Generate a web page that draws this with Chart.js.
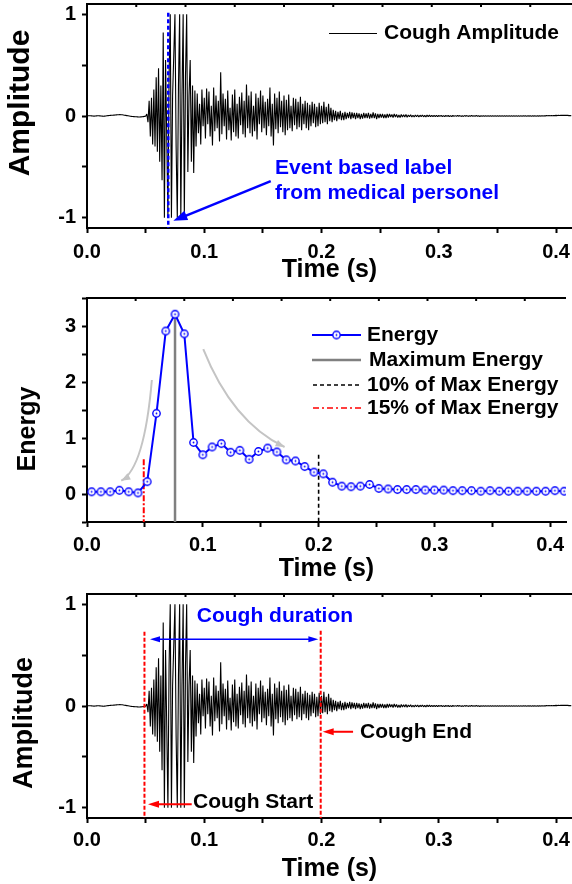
<!DOCTYPE html>
<html><head><meta charset="utf-8">
<script src="https://cdn.jsdelivr.net/npm/chart.js@4.4.1/dist/chart.umd.min.js"></script>
<style>
body{margin:0;background:#fff;}
canvas{display:block;}
</style></head><body>
<canvas id="c1" width="572" height="290"></canvas>
<canvas id="c2" width="572" height="300"></canvas>
<canvas id="c3" width="572" height="294"></canvas>
<script>
// ---- values ----
var timeMin=0,timeMax=0.4136;
var timeTicks=[0,0.05,0.1,0.15,0.2,0.25,0.3,0.35,0.4];
var ampTicks=[-1,-0.5,0,0.5,1];
var energyTicks=[-0.5,0,0.5,1,1.5,2,2.5,3,3.5];
var topTickStep=0.042;

// cough waveform, one sample per ms
var ampStep=0.001;
var cough=[
0,0.002,0.003,0.002,0.001,0,-0.001,0,0.001,0.002,
0.002,0.001,0,-0.001,-0.002,-0.001,0,0.002,0.004,0.005,
0.006,0.007,0.008,0.009,0.01,0.011,0.012,0.013,0.014,0.013,
0.012,0.01,0.008,0.006,0.004,0.002,0,-0.002,-0.004,-0.005,
-0.006,-0.007,-0.008,-0.009,-0.01,-0.01,-0.009,-0.008,-0.006,-0.004,
-0.003,0.02,-0.06,0.15,-0.2,0.18,-0.28,0.26,-0.3,0.38,
-0.35,0.47,-0.45,0.3,-0.63,0.82,-1,0.55,-0.2,-1,
0.4,1,-1,0.2,0.6,1,-0.3,-1,0.3,1,
-1,0.2,1,-1,0.4,1,-0.55,0.2,0.55,-0.45,
0.3,-0.56,0.25,-0.3,0.22,-0.17,0.12,-0.28,0.26,-0.1,
0.18,-0.22,0.27,-0.08,0.24,-0.2,0.1,-0.29,0.28,-0.15,
0.2,-0.12,0.15,-0.25,0.43,-0.18,0.22,-0.1,0.17,-0.23,
0.25,-0.14,0.08,-0.24,0.21,-0.16,0.26,-0.2,0.12,-0.22,
0.19,-0.09,0.23,-0.18,0.15,-0.21,0.31,-0.12,0.2,-0.17,
0.24,-0.2,0.1,-0.15,0.22,-0.23,0.18,-0.08,0.25,-0.16,
0.2,-0.12,0.14,-0.19,0.17,-0.1,0.28,-0.2,0.12,-0.29,
0.22,-0.13,0.18,-0.17,0.24,-0.11,0.15,-0.16,0.2,-0.19,
0.16,-0.14,0.21,-0.12,0.1,-0.15,0.18,-0.09,0.17,-0.13,
0.14,-0.11,0.19,-0.14,0.12,-0.08,0.15,-0.12,0.13,-0.14,
0.11,-0.1,0.14,-0.07,0.12,-0.11,0.09,-0.1,0.13,-0.08,
0.1,-0.07,0.14,-0.06,0.09,-0.08,0.12,-0.05,0.08,-0.06,
0.06,-0.04,0.05,-0.05,0.04,-0.03,0.05,-0.04,0.03,-0.04,
0.04,-0.03,0.03,-0.02,0.04,-0.03,0.035,-0.02,0.03,-0.03,
0.03,-0.02,0.025,-0.03,0.02,-0.025,0.03,-0.02,0.025,-0.02,
0.03,-0.025,0.02,-0.02,0.035,-0.02,0.025,-0.03,0.02,-0.02,
0.02,-0.015,0.02,-0.02,0.015,-0.02,0.02,-0.015,0.02,-0.01,
0.015,-0.015,0.02,-0.01,0.015,-0.015,0.01,-0.015,0.015,-0.01,
0.012,-0.01,0.015,-0.012,0.01,-0.008,0.012,-0.01,0.008,-0.01,
0.01,-0.008,0.01,-0.01,0.008,-0.006,0.01,-0.008,0.006,-0.008,
0.008,-0.006,0.008,-0.007,0.006,-0.006,0.007,-0.005,0.006,-0.006,
0.005,-0.004,0.006,-0.005,0.004,-0.005,0.005,-0.004,0.005,-0.005,
0.004,-0.005,0.005,-0.004,0.004,-0.004,0.005,-0.003,0.004,-0.004,
0.003,-0.004,0.004,-0.003,0.004,-0.004,0.003,-0.003,0.004,-0.003,
0.003,-0.003,0.004,-0.003,0.003,-0.004,0.003,-0.003,0.003,-0.003,
0.003,-0.002,0.003,-0.003,0.002,-0.003,0.003,-0.002,0.003,-0.003,
0.002,-0.003,0.003,-0.002,0.003,-0.002,0.002,-0.003,0.002,-0.002,
0.003,-0.002,0.002,-0.002,0.003,-0.002,0.002,-0.002,0.002,-0.002,
0.002,-0.002,0.003,-0.001,0.002,-0.002,0.002,-0.001,0.002,-0.002,
0.002,-0.001,0.002,-0.002,0.002,-0.001,0.002,-0.001,0.003,-0.001,
0.003,0.001,0.004,0.002,0.004,0.003,0.005,0.003,0.005,0.004,
0.006,0.004,0.007,0.005,0.007,0.006,0.008,0.006,0.007,0.006,
0.006,0.004,0.005,0.003
];

// frame energy, one frame per 8 ms
var energyStart=0.004,energyStep=0.008;
var energy=[
0.04,0.04,0.04,0.066,0.04,0.02,0.22,1.44,2.91,3.21,
2.86,0.92,0.70,0.84,0.90,0.745,0.78,0.62,0.76,0.82,
0.75,0.61,0.59,0.49,0.39,0.36,0.21,0.14,0.13,0.14,
0.17,0.10,0.09,0.08,0.08,0.08,0.07,0.07,0.07,0.06,
0.06,0.06,0.05,0.06,0.05,0.05,0.05,0.05,0.05,0.05,
0.06,0.05
];

// thresholds / labels
var labelTime=0.0693;                  // medical label
var peakTime=0.076,peakEnergy=3.21;    // maximum energy
var end10Time=0.2,end10Top=0.7;        // 10% of max
var start15Time=0.049,start15Top=0.62; // 15% of max
var coughStart=0.049,coughEnd=0.1993;

var FONT='"Liberation Sans", Arial, sans-serif';
var BLUE='#0000ff',RED='#ff0000',GRAY='#808080',LGRAY='#c4c4c4';

function xScale(tickPad,titlePad,h){
  return {type:'linear',min:timeMin,max:timeMax,
    afterFit:function(s){s.height=h;s.paddingLeft=0;s.paddingRight=0;},
    afterBuildTicks:function(s){s.ticks=timeTicks.map(function(v){return {value:v};});},
    ticks:{autoSkip:false,maxRotation:0,padding:tickPad,color:'#000',font:{family:FONT,size:20,weight:'bold'},
      callback:function(v){return Math.abs(v*10-Math.round(v*10))<1e-6?v.toFixed(1):'';}},
    grid:{drawOnChartArea:false,drawTicks:true,tickLength:5,tickWidth:2,tickColor:'#000'},
    border:{display:true,width:2,color:'#000'},
    title:{display:true,text:'Time (s)',color:'#000',font:{family:FONT,size:25,weight:'bold',lineHeight:1},padding:{top:0,bottom:titlePad}}
  };
}
function yScale(min,max,ticks){
  return {type:'linear',min:min,max:max,
    afterFit:function(s){s.width=87;s.paddingTop=0;s.paddingBottom=0;},
    afterBuildTicks:function(s){s.ticks=ticks.map(function(v){return {value:v};});},
    ticks:{autoSkip:false,padding:6,color:'#000',font:{family:FONT,size:20,weight:'bold'},
      callback:function(v){return Number.isInteger(v)?String(v):'';}},
    grid:{drawOnChartArea:false,drawTicks:true,tickLength:5,tickWidth:2,tickColor:'#000'},
    border:{display:true,width:2,color:'#000'},
    title:{display:false}
  };
}
// rotated y title, placed like the original
function yTitle(text,size,cx,cy){
  return {id:'ytitle',afterDraw:function(ch){
    var g=ch.ctx;g.save();g.translate(cx,cy);g.rotate(-Math.PI/2);
    g.font='bold '+size+'px '+FONT;g.fillStyle='#000';g.textAlign='center';g.textBaseline='middle';
    g.fillText(text,0,0);g.restore();
  }};
}

var frameTop={id:'frameTop',afterDraw:function(ch){
  var a=ch.chartArea,g=ch.ctx,x=ch.scales.x;
  g.save();g.strokeStyle='#000';g.lineWidth=2;
  g.beginPath();g.moveTo(a.left-1,a.top);g.lineTo(a.right,a.top);g.stroke();
  g.beginPath();
  for(var i=0;i*topTickStep<=timeMax;i++){var px=x.getPixelForValue(i*topTickStep);g.moveTo(px,a.top);g.lineTo(px,a.top+3);}
  g.stroke();g.restore();
}};

function head(g,x,y,ang,len,w,color){
  g.save();g.translate(x,y);g.rotate(ang);
  g.beginPath();g.moveTo(0,0);g.lineTo(-len,w/2);g.lineTo(-len,-w/2);g.closePath();
  g.fillStyle=color;g.fill();g.restore();
}
function arrow(g,x1,y1,x2,y2,color,lw,len,w,both){
  var ang=Math.atan2(y2-y1,x2-x1),c=Math.cos(ang),s=Math.sin(ang);
  g.save();g.strokeStyle=color;g.lineWidth=lw;g.setLineDash([]);g.beginPath();
  g.moveTo(both?x1+c*len*0.8:x1,both?y1+s*len*0.8:y1);g.lineTo(x2-c*len*0.8,y2-s*len*0.8);g.stroke();g.restore();
  head(g,x2,y2,ang,len,w,color);
  if(both)head(g,x1,y1,ang+Math.PI,len,w,color);
}
function vline(g,px,y1,y2,color,lw,dash){
  g.save();g.strokeStyle=color;g.lineWidth=lw;g.setLineDash(dash);
  g.beginPath();g.moveTo(px,y1);g.lineTo(px,y2);g.stroke();g.restore();
}
function label(g,text,px,py,color){
  g.save();g.font='bold 21px '+FONT;g.fillStyle=color;g.textAlign='left';g.textBaseline='middle';
  g.fillText(text,px,py);g.restore();
}
function curveArrow(ch,p0,p1,p2){
  var x=ch.scales.x,y=ch.scales.y,g=ch.ctx;
  var a=[x.getPixelForValue(p0[0]),y.getPixelForValue(p0[1])];
  var b=[x.getPixelForValue(p1[0]),y.getPixelForValue(p1[1])];
  var c=[x.getPixelForValue(p2[0]),y.getPixelForValue(p2[1])];
  g.save();g.strokeStyle=LGRAY;g.lineWidth=2;g.beginPath();g.moveTo(a[0],a[1]);g.quadraticCurveTo(b[0],b[1],c[0],c[1]);g.stroke();g.restore();
  head(g,c[0],c[1],Math.atan2(c[1]-b[1],c[0]-b[0]),9,7,LGRAY);
}

function ringDot(){
  var c=document.createElement('canvas');c.width=c.height=11;
  var g=c.getContext('2d');
  g.beginPath();g.arc(5.5,5.5,3.7,0,Math.PI*2);g.fillStyle='#fff';g.fill();
  g.lineWidth=1.4;g.strokeStyle=BLUE;g.stroke();
  g.beginPath();g.arc(5.5,5.5,0.9,0,Math.PI*2);g.fillStyle=BLUE;g.fill();
  return c;
}
var ring=ringDot();

var coughPts=cough.map(function(v,i){return {x:i*ampStep,y:v};});
var energyPts=energy.map(function(v,k){return {x:energyStart+k*energyStep,y:v};});

function base(pad){
  return {responsive:false,animation:false,layout:{padding:{top:pad,left:0,right:0,bottom:0}},
    plugins:{legend:{display:false},tooltip:{enabled:false}},
    elements:{line:{tension:0,borderJoinStyle:'bevel'},point:{radius:0}}};
}

// ---- panel 1: waveform with medical label ----
var o1=base(4);
o1.scales={x:xScale(7,7,62),y:yScale(-1.1,1.1,ampTicks)};
new Chart(document.getElementById('c1'),{type:'line',
  data:{datasets:[{data:coughPts,borderColor:'#000',borderWidth:1.1,pointRadius:0}]},
  options:o1,
  plugins:[frameTop,yTitle('Amplitude',30,20.5,103),{id:'ann1',afterDatasetsDraw:function(ch){
    var g=ch.ctx,x=ch.scales.x,y=ch.scales.y,a=ch.chartArea;
    vline(g,x.getPixelForValue(labelTime),y.getPixelForValue(1.015),a.bottom,BLUE,2.5,[4,2.5]);
    arrow(g,x.getPixelForValue(0.1567),y.getPixelForValue(-0.639),x.getPixelForValue(0.0736),y.getPixelForValue(-1.029),BLUE,2.5,14,10);
    label(g,'Event based label',x.getPixelForValue(0.1603),y.getPixelForValue(-0.516),BLUE);
    label(g,'from medical personel',x.getPixelForValue(0.1603),y.getPixelForValue(-0.761),BLUE);
    g.save();g.strokeStyle='#000';g.lineWidth=1;g.beginPath();g.moveTo(329,33.5);g.lineTo(377,33.5);g.stroke();g.restore();
    label(g,'Cough Amplitude',384,33,'#000');
  }}]
});

// ---- panel 2: frame energy ----
var o2=base(8);
o2.scales={x:xScale(6,8,68),y:yScale(-0.5,3.5,energyTicks)};
new Chart(document.getElementById('c2'),{type:'line',
  data:{datasets:[{data:energyPts,borderColor:BLUE,borderWidth:2,pointStyle:ring,pointRadius:4}]},
  options:o2,
  plugins:[frameTop,yTitle('Energy',25,28.5,139),{id:'ann2',beforeDatasetsDraw:function(ch){
    var g=ch.ctx,x=ch.scales.x,y=ch.scales.y,a=ch.chartArea;
    vline(g,x.getPixelForValue(peakTime),y.getPixelForValue(peakEnergy),a.bottom,GRAY,2.5,[]);
    vline(g,x.getPixelForValue(end10Time),y.getPixelForValue(end10Top),a.bottom,'#000',1.6,[4,3]);
    vline(g,x.getPixelForValue(start15Time),y.getPixelForValue(start15Top),a.bottom,RED,2,[6,2,2,2]);
    curveArrow(ch,[0.056,2.036],[0.0495,0.464],[0.0296,0.237]);
    curveArrow(ch,[0.1004,2.589],[0.1255,1.286],[0.1706,0.839]);
  },afterDraw:function(ch){
    var g=ch.ctx;
    g.save();g.lineWidth=2;g.strokeStyle=BLUE;g.beginPath();g.moveTo(312,45);g.lineTo(361,45);g.stroke();
    g.drawImage(ring,336.5-5.5,45-5.5);
    g.strokeStyle=GRAY;g.lineWidth=2.5;g.beginPath();g.moveTo(312,70);g.lineTo(361,70);g.stroke();
    g.strokeStyle='#000';g.lineWidth=1.6;g.setLineDash([4,3]);g.beginPath();g.moveTo(313,95);g.lineTo(361,95);g.stroke();
    g.strokeStyle=RED;g.lineWidth=1.6;g.setLineDash([6,3,2,3]);g.beginPath();g.moveTo(313,118);g.lineTo(361,118);g.stroke();
    g.restore();
    label(g,'Energy',367,45,'#000');
    label(g,'Maximum Energy',369,70,'#000');
    label(g,'10% of Max Energy',367,95,'#000');
    label(g,'15% of Max Energy',367,118,'#000');
  }}]
});

// ---- panel 3: waveform with detected start / end ----
var o3=base(4);
o3.scales={x:xScale(5,2,66),y:yScale(-1.1,1.1,ampTicks)};
new Chart(document.getElementById('c3'),{type:'line',
  data:{datasets:[{data:coughPts,borderColor:'#000',borderWidth:1.1,pointRadius:0}]},
  options:o3,
  plugins:[frameTop,yTitle('Amplitude',27,24.5,133),{id:'ann3',afterDatasetsDraw:function(ch){
    var g=ch.ctx,x=ch.scales.x,y=ch.scales.y,a=ch.chartArea;
    vline(g,x.getPixelForValue(coughStart),y.getPixelForValue(0.73),a.bottom,RED,2,[4,2]);
    vline(g,x.getPixelForValue(coughEnd),y.getPixelForValue(0.74),a.bottom,RED,2,[4,2]);
    arrow(g,x.getPixelForValue(0.0537),y.getPixelForValue(0.655),x.getPixelForValue(0.1973),y.getPixelForValue(0.655),BLUE,1.5,10,6,true);
    label(g,'Cough duration',x.getPixelForValue(0.0936),y.getPixelForValue(0.884),BLUE);
    arrow(g,x.getPixelForValue(0.0893),y.getPixelForValue(-0.966),x.getPixelForValue(0.052),y.getPixelForValue(-0.966),RED,2,11,7);
    label(g,'Cough Start',x.getPixelForValue(0.0904),y.getPixelForValue(-0.946),'#000');
    arrow(g,x.getPixelForValue(0.2269),y.getPixelForValue(-0.253),x.getPixelForValue(0.201),y.getPixelForValue(-0.253),RED,2,11,7);
    label(g,'Cough End',x.getPixelForValue(0.2328),y.getPixelForValue(-0.253),'#000');
  }}]
});
</script></body></html>
